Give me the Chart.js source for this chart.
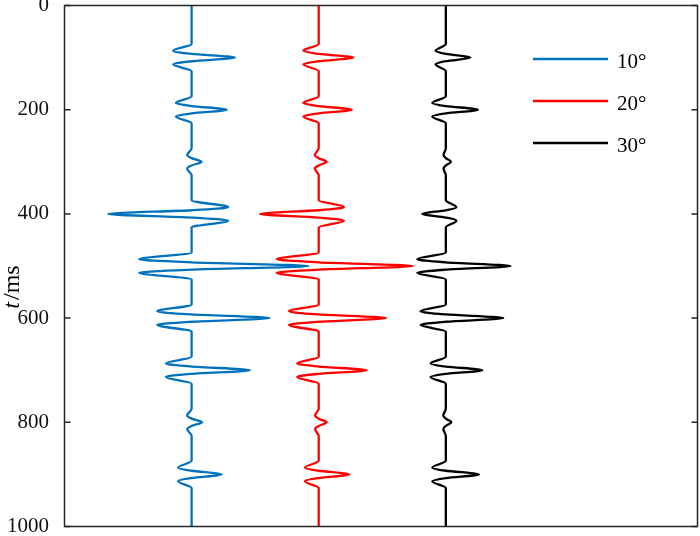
<!DOCTYPE html>
<html>
<head>
<meta charset="utf-8">
<script src="https://cdn.jsdelivr.net/npm/chart.js@4.4.0/dist/chart.umd.min.js"></script>
<style>
  body { margin: 0; background: #fff; }
  canvas { display: block; }
</style>
</head>
<body>
<canvas id="plotCanvas" width="700" height="536"></canvas>
<script>
// traces (incidence angle), colour and trace position on the x axis
const traceLabels = ["10°", "20°", "30°"];
const traceColors = ["#0072bd", "#ff0000", "#000000"];
const traceOffsets = [1, 2, 3];

// reflection events, ms
const eventTimes = [100, 200, 300, 400, 500, 600, 700, 800, 900];
// times of the wavelet lobes relative to the event, ms
const lobeShift = [-26, -13, -7, 0, 7, 13, 26];

// side lobe and main lobe amplitude of every event (trace units)
const side10 = [-0.145, -0.124, -0.035, 0.288, -0.413, -0.271, -0.202, -0.035, -0.106];
const peak10 = [0.341, 0.276, 0.079, -0.657, 0.918, 0.614, 0.459, 0.083, 0.236];
const side20 = [-0.121, -0.121, -0.031, 0.199, -0.331, -0.234, -0.169, -0.029, -0.108];
const peak20 = [0.272, 0.260, 0.063, -0.462, 0.740, 0.530, 0.378, 0.063, 0.241];
const side30 = [-0.081, -0.107, -0.018, 0.083, -0.225, -0.199, -0.120, -0.020, -0.107];
const peak30 = [0.194, 0.252, 0.040, -0.186, 0.509, 0.452, 0.287, 0.043, 0.260];

const yTicks = [0, 200, 400, 600, 800, 1000];
const tMin = 0;
const tMax = 1000;

const axisColor = "#262626";
const serif = "'Liberation Serif', 'Times New Roman', serif";

function tracePoints(offset, side, peak) {
  let pts = [{ x: offset, y: tMin }];
  eventTimes.forEach(function (t0, i) {
    lobeShift.forEach(function (s) {
      let v = 0;
      if (s === 0) v = peak[i];
      else if (Math.abs(s) === 13) v = side[i];
      pts.push({ x: offset + v, y: t0 + s });
    });
  });
  pts.push({ x: offset, y: tMax });
  return pts;
}

const sides = [side10, side20, side30];
const peaks = [peak10, peak20, peak30];

let datasets = traceLabels.map(function (lab, k) {
  return {
    label: lab,
    data: tracePoints(traceOffsets[k], sides[k], peaks[k]),
    borderColor: traceColors[k],
    borderWidth: 2.3,
    pointRadius: 0,
    fill: false,
    cubicInterpolationMode: "monotone",
  };
});

// box, inward ticks, legend and axis title
const decor = {
  id: "decor",
  afterDatasetsDraw(chart) {
    const ctx = chart.ctx;
    const a = chart.chartArea;
    const y = chart.scales.y;
    ctx.save();
    ctx.strokeStyle = axisColor;
    ctx.lineWidth = 1.5;
    ctx.strokeRect(a.left, a.top, a.right - a.left, a.bottom - a.top);
    ctx.beginPath();
    yTicks.forEach(function (v) {
      const py = y.getPixelForValue(v);
      ctx.moveTo(a.left, py);
      ctx.lineTo(a.left + 6, py);
      ctx.moveTo(a.right, py);
      ctx.lineTo(a.right - 6, py);
    });
    ctx.stroke();

    // legend
    ctx.font = "21px " + serif;
    ctx.textBaseline = "alphabetic";
    ctx.textAlign = "left";
    chart.data.datasets.forEach(function (ds, k) {
      const ly = 59 + k * 42;
      ctx.strokeStyle = ds.borderColor;
      ctx.lineWidth = 2.3;
      ctx.beginPath();
      ctx.moveTo(533, ly);
      ctx.lineTo(608, ly);
      ctx.stroke();
      ctx.fillStyle = "#000";
      ctx.fillText(ds.label, 617, ly + 9);
    });

    // y title: italic t + /ms
    ctx.translate(18.5, 287);
    ctx.rotate(-Math.PI / 2);
    ctx.fillStyle = "#000";
    ctx.font = "italic 24px " + serif;
    const w1 = ctx.measureText("t").width + 2;
    ctx.font = "24px " + serif;
    const w2 = ctx.measureText("/ms").width;
    let x0 = -(w1 + w2) / 2;
    ctx.font = "italic 24px " + serif;
    ctx.fillText("t", x0, 0);
    ctx.font = "24px " + serif;
    ctx.fillText("/ms", x0 + w1, 0);
    ctx.restore();
  },
};

const ctx = document.getElementById("plotCanvas").getContext("2d");
const chart = new Chart(ctx, {
  type: "line",
  data: { datasets: datasets },
  options: {
    responsive: false,
    animation: false,
    indexAxis: "y",
    layout: { padding: { top: 5.5, right: 2.5, bottom: 9.5, left: 0 } },
    plugins: {
      legend: { display: false },
      tooltip: { enabled: false },
    },
    scales: {
      x: {
        type: "linear",
        min: 0,
        max: 4.98,
        display: false,
      },
      y: {
        type: "linear",
        reverse: true,
        min: tMin,
        max: tMax,
        grid: { display: false },
        border: { display: false },
        afterBuildTicks: function (s) {
          s.ticks = yTicks.map(function (v) { return { value: v }; });
        },
        afterFit: function (s) {
          s.width = 64.5;
          s.paddingTop = 0;
          s.paddingBottom = 0;
        },
        ticks: {
          padding: 7.5,
          color: "#111",
          font: { family: serif, size: 21 },
          callback: function (v) { return String(v); },
        },
      },
    },
  },
  plugins: [decor],
});
</script>
</body>
</html>
